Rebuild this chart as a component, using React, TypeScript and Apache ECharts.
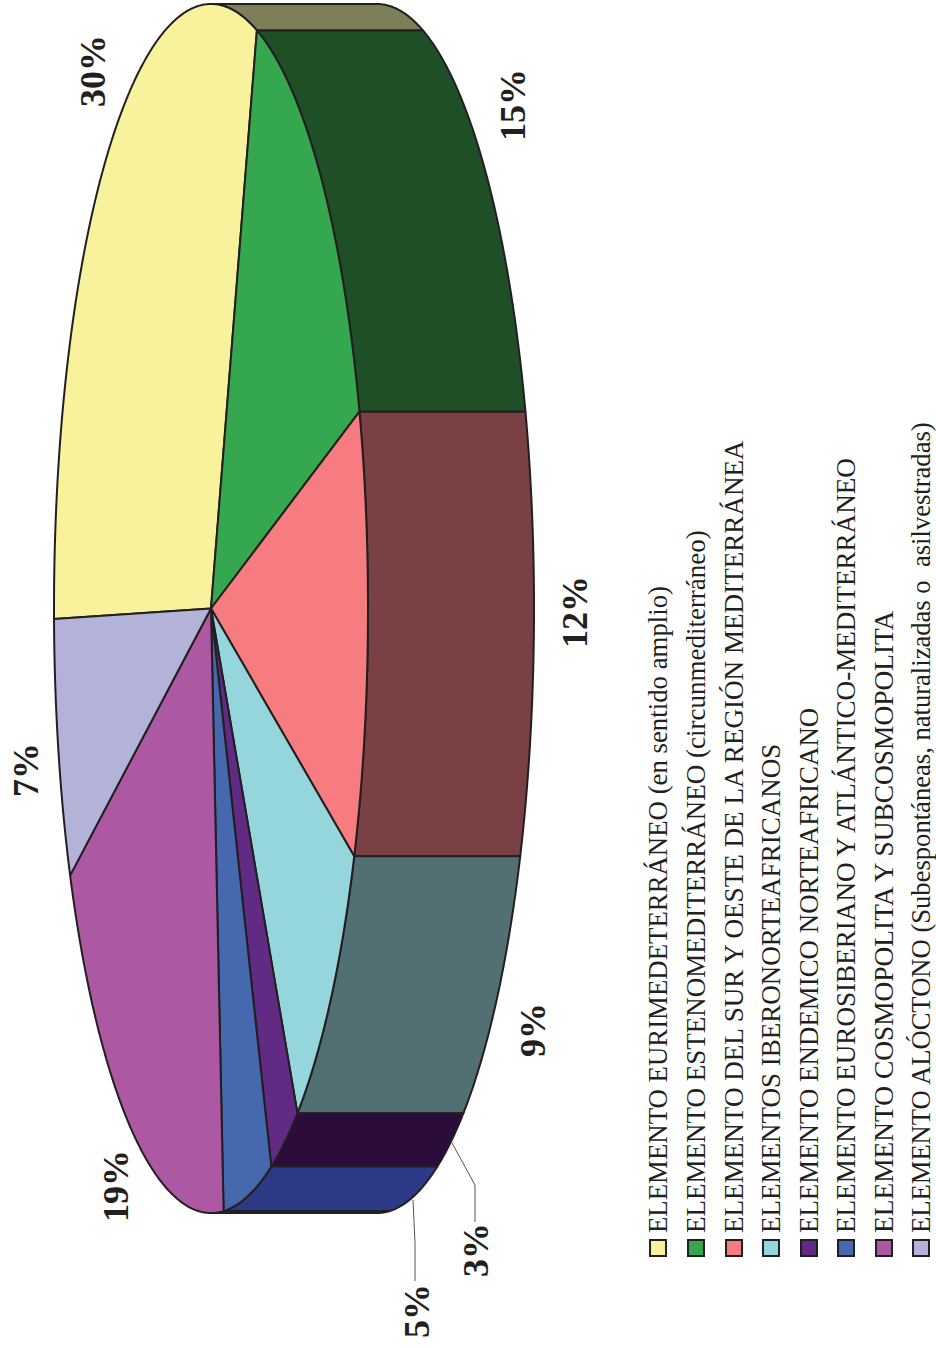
import React, { useEffect, useRef } from "react";
import * as echarts from "echarts";

// Share of each chorological element, in percent
const elementShares = [30, 15, 12, 9, 3, 5, 19, 7];
const elementNames = [
  "ELEMENTO EURIMEDETERRÁNEO (en sentido amplio)",
  "ELEMENTO ESTENOMEDITERRÁNEO (circunmediterráneo)",
  "ELEMENTO DEL SUR Y OESTE DE LA REGIÓN MEDITERRÁNEA",
  "ELEMENTOS IBERONORTEAFRICANOS",
  "ELEMENTO ENDEMICO NORTEAFRICANO",
  "ELEMENTO EUROSIBERIANO Y ATLÁNTICO-MEDITERRÁNEO",
  "ELEMENTO COSMOPOLITA Y SUBCOSMOPOLITA",
  "ELEMENTO ALÓCTONO (Subespontáneas, naturalizadas o  asilvestradas)",
];
const faceColors = ["#f7f29b", "#35a84f", "#f67c80", "#95d6dc", "#612a85", "#4668ae", "#ac58a2", "#b3b3d9"];
const wallColors = ["#7c7f58", "#1f4f27", "#7a4144", "#527073", "#2b0c3a", "#2d3a88", "#2d3a88", "#6f6f8f"];

// Where each percentage sits (page pixels), in the same order as the shares
const percentLabelSpots = [
  [93, 71], [513, 105], [575, 612], [533, 1030], [476, 1250], [417, 1311], [116, 1186], [26, 770],
];
const leaderLines = [
  [[452, 1143], [475, 1185], [475, 1222]],
  [[413, 1200], [415, 1243], [415, 1281]],
];

// Disc geometry: a flattened ellipse lying on its side, pushed right for the wall
const CX = 211;
const CY = 608.5;
const RX = 157;
const RY = 604.5;
const DEPTH = 166;
const START_DEG = 179;
const INK = "#231f20";
const SERIF = '"Liberation Serif", "Times New Roman", serif';

const total = elementShares.reduce((a, b) => a + b, 0);
const sliceRanges: number[][] = [];
let running = START_DEG;
for (const share of elementShares) {
  const sweep = (share / total) * 360;
  sliceRanges.push([running, running + sweep]);
  running += sweep;
}

const rimPoint = (deg: number, dx = 0) => {
  const t = (deg * Math.PI) / 180;
  return [CX + RX * Math.cos(t) + dx, CY + RY * Math.sin(t)];
};

const arcPoints = (a: number, b: number, dx = 0) => {
  const n = Math.max(2, Math.ceil((b - a) * 2));
  const out: number[][] = [];
  for (let i = 0; i <= n; i++) out.push(rimPoint(a + ((b - a) * i) / n, dx));
  return out;
};

// Wall part of a slice: only the rim between -90 and 90 degrees faces the viewer
const wallRange = (a: number, b: number) => {
  for (const turn of [-360, 0, 360]) {
    const lo = Math.max(a, -90 + turn);
    const hi = Math.min(b, 90 + turn);
    if (hi > lo) return [lo, hi];
  }
  return null;
};

const renderWall = (params: any) => {
  const i = params.dataIndex;
  const range = wallRange(sliceRanges[i][0], sliceRanges[i][1]);
  if (!range) return null;
  const pts = [...arcPoints(range[0], range[1]), ...arcPoints(range[0], range[1], DEPTH).reverse()];
  return {
    type: "polygon",
    shape: { points: pts },
    style: { fill: wallColors[i], stroke: INK, lineWidth: 2, lineJoin: "round" },
  };
};

const renderFace = (params: any) => {
  const i = params.dataIndex;
  const pts = [[CX, CY], ...arcPoints(sliceRanges[i][0], sliceRanges[i][1])];
  return {
    type: "polygon",
    shape: { points: pts },
    style: { fill: faceColors[i], stroke: INK, lineWidth: 2, lineJoin: "round" },
  };
};

const LEGEND_X = [649, 687, 725, 762, 800, 837, 875, 912];
const LEGEND_FONT_PX = [26.8, 27, 27.1, 27, 26.9, 27.1, 27.4, 26.6];

const buildGraphics = () => {
  const items: any[] = [];
  elementShares.forEach((share, i) => {
    items.push({
      type: "text",
      x: percentLabelSpots[i][0],
      y: percentLabelSpots[i][1],
      rotation: Math.PI / 2,
      style: {
        text: `${share}%`,
        font: `bold 36px ${SERIF}`,
        fill: INK,
        textAlign: "center",
        textVerticalAlign: "middle",
      },
    });
  });
  leaderLines.forEach((pts) => {
    items.push({
      type: "polyline",
      shape: { points: pts },
      style: { stroke: "#555555", lineWidth: 1, fill: "none" },
    });
  });
  elementNames.forEach((name, i) => {
    const x = LEGEND_X[i];
    items.push({
      type: "rect",
      shape: { x: x + 1, y: 1240, width: 16, height: 16 },
      style: { fill: faceColors[i], stroke: INK, lineWidth: 2 },
    });
    items.push({
      type: "text",
      x: x + 22,
      y: 1233,
      rotation: Math.PI / 2,
      style: {
        text: name,
        font: `${LEGEND_FONT_PX[i]}px ${SERIF}`,
        fill: INK,
        textAlign: "left",
        textVerticalAlign: "bottom",
      },
    });
  });
  return items;
};

export default function App() {
  const hostRef = useRef<HTMLDivElement>(null);
  useEffect(() => {
    const chart = echarts.init(hostRef.current!, undefined, { renderer: "svg" });
    const data = elementShares.map((share, i) => ({ value: share, name: elementNames[i] }));
    chart.setOption({
      animation: false,
      backgroundColor: "#ffffff",
      series: [
        { type: "custom", coordinateSystem: "none", renderItem: renderWall, data, z: 1 },
        { type: "custom", coordinateSystem: "none", renderItem: renderFace, data, z: 2 },
      ],
      graphic: { elements: buildGraphics() },
    });
    return () => chart.dispose();
  }, []);
  return <div ref={hostRef} style={{ position: "absolute", left: 0, top: 0, width: 936, height: 1348 }} />;
}
